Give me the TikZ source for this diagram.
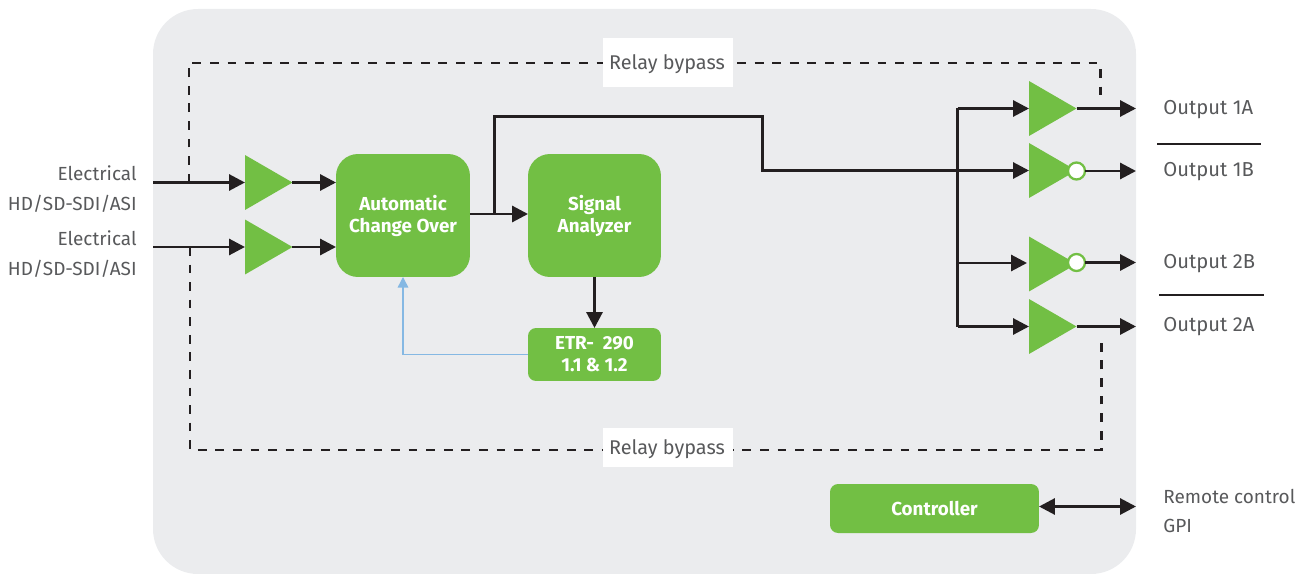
\documentclass[tikz,border=0pt]{standalone}
\usepackage{fontspec}
\setmainfont{Fira Sans}
\usetikzlibrary{arrows.meta,shapes.geometric}
\definecolor{panelgray}{HTML}{EBECEE}
\definecolor{boxgreen}{HTML}{72BF44}
\definecolor{wireblack}{HTML}{231F20}
\definecolor{textgray}{HTML}{58595B}
\definecolor{loopblue}{HTML}{85B8E3}
\tikzset{
  block/.style={fill=boxgreen,text=white,align=center,inner sep=0pt,outer sep=0pt,font=\fontsize{10.7}{12.5}\selectfont\bfseries},
  amp/.style={isosceles triangle,isosceles triangle apex angle=60,fill=boxgreen,inner sep=0pt,outer sep=0pt,minimum height=.95cm,minimum width=1.1cm,isosceles triangle stretches,anchor=lower side},
  bubble/.style={circle,draw=boxgreen,line width=1.3pt,fill=white,inner sep=0pt,outer sep=0pt,minimum size=.34cm},
  sig/.style={line width=1.7pt,color=wireblack,-{Triangle[length=9pt,width=9pt]}},
  wire/.style={line width=1.7pt,color=wireblack},
  bypass/.style={line width=1.7pt,color=wireblack,dash pattern=on 5pt off 5pt},
  lbl/.style={text=textgray,inner sep=0pt,font=\fontsize{10.8}{13}\selectfont},
  outlbl/.style={lbl,anchor=west,font=\fontsize{11.5}{13}\selectfont}
}
\begin{document}
\begin{tikzpicture}[x=.02cm,y=-.02cm]
\useasboundingbox (0,0) rectangle (1304,574);

%PANEL
  \fill[panelgray,rounded corners=.9cm] (153,9) rectangle (1136,574);

%BYPASS
  \coordinate (inA) at (153,182.5);
  \coordinate (inB) at (153,247);
  \coordinate (tapA) at (189,182.5);
  \coordinate (tapB) at (190,247);
  \coordinate (backA) at (1100,103);
  \coordinate (backB) at (1101,335);
  \draw[bypass] (tapA)--(189,63)--(1100,63)--(backA);
  \draw[bypass] (tapB)--(190,450)--(1101,450)--(backB);
  \fill[white] (603,38) rectangle (733,87);
  \fill[white] (603,428) rectangle (733,467);
  \node (relayA) at (667,64) [lbl,font=\fontsize{11.3}{13}\selectfont] {Relay bypass};
  \node (relayB) at (667,449) [lbl,font=\fontsize{11.3}{13}\selectfont] {Relay bypass};

%BLOCKS
  \node (change) at (403,215.5) [block,rounded corners=.44cm,minimum width=2.68cm,minimum height=2.46cm] {Automatic\\Change Over};
  \node (analyzer) at (594.5,215.5) [block,rounded corners=.44cm,minimum width=2.66cm,minimum height=2.46cm] {Signal\\Analyzer};
  \node (etr) at (594.5,354.5) [block,rounded corners=.16cm,minimum width=2.66cm,minimum height=1.06cm] {ETR-\ \ 290\\1.1 \& 1.2};
  \node (ctrl) at (934.5,508.5) [block,rounded corners=.16cm,minimum width=4.18cm,minimum height=.98cm] {Controller};

%AMPLIFIERS
  \node (ampA) at (245,182.5) [amp] {};
  \node (ampB) at (245,247) [amp] {};
  \node (outA) at (1029,108.5) [amp] {};
  \node (outB) at (1029,170.5) [amp] {};
  \node (outC) at (1029,264) [amp] {};
  \node (outD) at (1029,326.5) [amp] {};
  \node (notB) at (1076.5,171) [bubble] {};
  \node (notC) at (1076.5,262.5) [bubble] {};

%SIGNAL PATH
  \draw[sig] (inA)--(ampA.lower side);
  \draw[sig] (inB)--(ampB.lower side);
  \draw[sig] (ampA.apex)--(change.west |- ampA.apex);
  \draw[sig] (ampB.apex)--(change.west |- ampB.apex);
  \draw[sig] (change.east |- 0,214)--(analyzer.west |- 0,214);
  \draw[sig] (analyzer.south)--(etr.north);
  \draw[line width=.8pt,color=loopblue,-{Triangle[length=6pt,width=6pt]}] (etr.west)-|(change.south);
  \coordinate (split) at (494,214);
  \coordinate (busA) at (957.5,108.5);
  \coordinate (busB) at (957.5,170.5);
  \coordinate (busC) at (957.5,263);
  \coordinate (busD) at (957.5,326.5);
  \draw[wire] (split)--(494,116.5)--(762,116.5)--(762,170.5)--(busB);
  \draw[wire] (busA)--(busD);
  \draw[sig] (busA)--(outA.lower side);
  \draw[sig] (busB)--(outB.lower side);
  \draw[sig] (busC)--(1027,263);
  \draw[sig] (busD)--(outD.lower side);

%OUTPUTS
  \coordinate (endA) at (1136,108.5);
  \coordinate (endB) at (1136,171);
  \coordinate (endC) at (1136,262.5);
  \coordinate (endD) at (1136,326.5);
  \coordinate (endE) at (1136,506.5);
  \draw[sig] (outA.apex)--(endA);
  \draw[sig] (notB.east)--(endB);
  \draw[sig] (notC.east)--(endC);
  \draw[sig] (outD.apex)--(endD);
  \draw[wire,{Triangle[length=9pt,width=9pt]}-{Triangle[length=9pt,width=9pt]}] (ctrl.east |- 0,506.5)--(endE);

%LABELS
  \node (elecA) at (137,173.5) [lbl,anchor=east] {Electrical};
  \node (sdiA) at (137,203.5) [lbl,anchor=east] {HD/SD-SDI/ASI};
  \node (elecB) at (137,238.5) [lbl,anchor=east] {Electrical};
  \node (sdiB) at (137,268.5) [lbl,anchor=east] {HD/SD-SDI/ASI};
  \node (nameA) at (1163,109.5) [outlbl] {Output 1A};
  \node (nameB) at (1163,171.5) [outlbl] {Output 1B};
  \node (nameC) at (1163,263.5) [outlbl] {Output 2B};
  \node (nameD) at (1163,326.5) [outlbl] {Output 2A};
  \node (remote) at (1163,496) [lbl,anchor=west] {Remote control};
  \node (gpi) at (1163,526) [lbl,anchor=west] {GPI};
  \draw[wire] (1157,144)--(1261,144);
  \draw[wire] (1159,295)--(1264,295);
\end{tikzpicture}
\end{document}
